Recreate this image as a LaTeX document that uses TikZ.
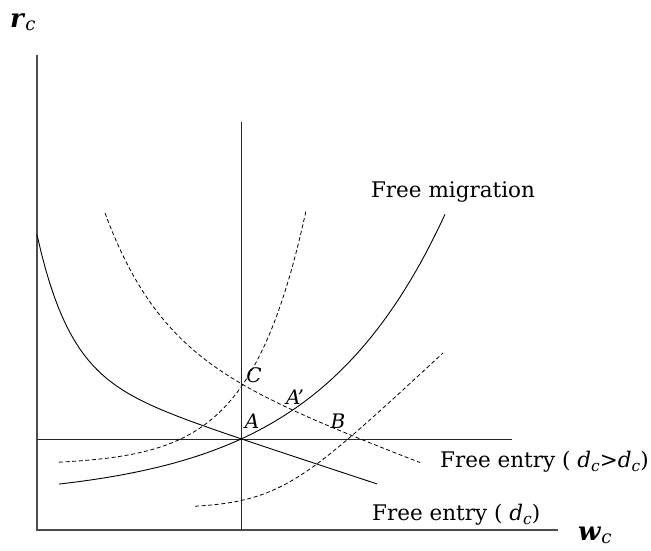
\documentclass[tikz,border=0pt]{standalone}
\usepackage{fontspec}
\setmainfont{DejaVu Serif}
\usepackage{tikz}
\usetikzlibrary{positioning}
\newcommand{\varsub}[2]{\textit{#1}\raisebox{-0.3ex}{\scalebox{0.72}{\textit{#2}}}}
\newcommand{\axsub}[2]{\textbf{\textit{#1}}\raisebox{-0.25ex}{\scalebox{0.7}{\textit{#2}}}}

\begin{document}
\begin{tikzpicture}[x=1pt,y=-1pt,
    axis/.style={draw=black!70, line width=1.2pt},
    guide/.style={draw=black!85, line width=0.9pt},
    curve/.style={draw=black, line width=0.9pt},
    dcurve/.style={curve, dash pattern=on 4pt off 2.6pt, line width=0.8pt},
    lbl/.style={font=\fontsize{21.5}{24}\selectfont, inner sep=0pt},
    axlbl/.style={font=\fontsize{26}{28}\selectfont, inner sep=0pt},
    pt/.style={font=\fontsize{20}{22}\selectfont\itshape, inner sep=0pt}]

  \useasboundingbox (0,0) rectangle (651,550);

  % Axes and guide lines
  \coordinate (O) at (37,530);
  \coordinate (ytop) at (37,55);
  \coordinate (xend) at (558,530);
  \coordinate (vtop) at (241,122);
  \coordinate (vbot) at (241,530);
  \coordinate (hl) at (37,439);
  \coordinate (hr) at (512,439);
  \draw[axis] (ytop) -- (O) -- (xend);
  \draw[guide] (vtop) -- (vbot);
  \draw[guide] (hl) -- (hr);

  % Free entry (d_c)
  \draw[curve] plot[domain=37:377, samples=80]
    (\x, {530-(170.5-0.33*\x+137*exp(-(\x-37)/32.7))});

  % Free migration
  \draw[curve] plot[domain=59:445, samples=80]
    (\x, {530-(31+9.53*exp(\x/131))});

  % Free entry (d_c > d_c)
  \draw[dcurve] plot[domain=105:420, samples=80]
    (\x, {530-(226.6-0.38*\x+130.3*exp(-(\x-105)/56))});

  % Shifted free migration curves
  \draw[dcurve] plot[domain=59:306, samples=80]
    (\x, {530-(65+0.975*exp(\x/55))});
  \draw[dcurve] plot[domain=195:443, samples=80]
    (\x, {530-(22+0.93*30*ln(1+exp((\x-276.4)/30)))});

  % Axis labels
  \node[axlbl, anchor=base west] (rc) at (10,27) {\axsub{r}{c}};
  \node[axlbl, anchor=base west] (wc) at (578,540) {\axsub{w}{c}};

  % Curve labels
  \node[lbl] (fm) at (453,192) {Free migration};
  \node[lbl, anchor=west] (fe2) at (440,462) {Free entry (\ \varsub{d}{c}>\varsub{d}{c})};
  \node[lbl, anchor=west] (fe1) at (372,515) {Free entry (\ \varsub{d}{c})};

  % Points
  \node[pt] (C) at (254,375) {C};
  \node[pt] (A2) at (295,397) {A’};
  \node[pt] (A) at (252,421) {A};
  \node[pt] (B) at (338,421) {B};

\end{tikzpicture}
\end{document}
